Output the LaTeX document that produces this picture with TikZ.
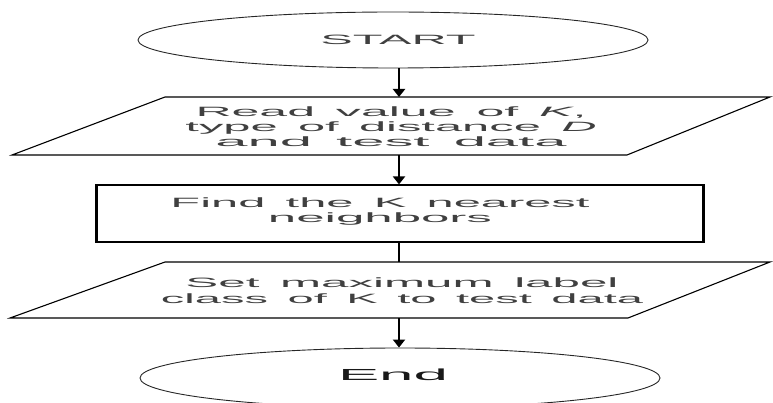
\documentclass[tikz,border=0pt]{standalone}
\usepackage{fontspec}
\setmainfont{Liberation Sans}[WordSpace=1.5]
\usetikzlibrary{shapes.geometric,arrows.meta}
\newcommand{\wl}[2]{\resizebox{#1}{\height}{#2}}
\begin{document}
\begin{tikzpicture}[x=1pt,y=-1pt,
  shapeline/.style={draw=black,line width=1.1pt},
  term/.style={ellipse,draw=black!85,line width=0.9pt,inner sep=0pt},
  txt/.style={font=\fontsize{13.5}{15}\selectfont,text=black!75,align=center,inner sep=0pt},
  flow/.style={draw=black,line width=2pt,-{Triangle[length=8pt,width=12pt]}},
  plainline/.style={draw=black,line width=2pt}]
\useasboundingbox (0,0) rectangle (773,403);
% START
\node[term,minimum width=510pt,minimum height=56pt] (start) at (393,40) {};
\node[txt] (starttxt) at (398,40) {\wl{155pt}{START}};
% input 1
\coordinate (r1) at (399,97);
\coordinate (r2) at (399,155);
\draw[shapeline] (165,97) -- (770,97) -- (627,155) -- (12,155) -- cycle;
\node[txt] (read) at (391,127) {\wl{391pt}{Read value of \textit{K},}\\\wl{411pt}{type of distance \textit{D}}\\\wl{351pt}{and test data}};
% process
\node[draw=black,line width=1.2pt,minimum width=606pt,minimum height=57pt,inner sep=0pt] (find) at (400,213.5) {};
\draw[line width=2.2pt] (find.north west) -- (find.south west);
\draw[line width=2.2pt] (find.north east) -- (find.south east);
\node[txt] (findtxt) at (380,212) {\wl{419pt}{Find the K nearest}\\\wl{224pt}{neighbors}};
% input 2
\coordinate (s1) at (399,262);
\coordinate (s2) at (399,318);
\draw[shapeline] (165,262) -- (770,262) -- (628,318) -- (10,318) -- cycle;
\node[txt] (settxt) at (402,291) {\wl{433pt}{Set maximum label}\\[1pt]\wl{482pt}{class of K to test data}};
% End
\node[term,minimum width=520pt,minimum height=60pt] (end) at (400,378) {};
\node[txt,text=black!90] (endtxt) at (393,375) {\fontsize{16}{18}\selectfont\wl{110pt}{End}};
% connectors
\draw[flow] (start.south -| r1) -- (r1);
\draw[flow] (r2) -- (find.north -| r2);
\draw[plainline] (find.south -| s1) -- (s1);
\draw[flow] (s2) -- (end.north -| s2);
\end{tikzpicture}
\end{document}
